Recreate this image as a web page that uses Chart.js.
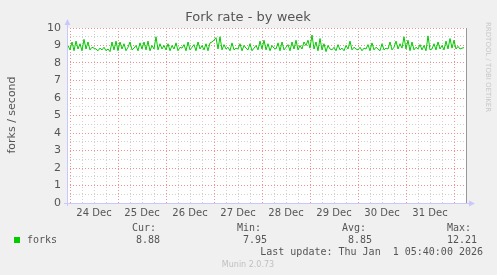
<!DOCTYPE html>
<html>
<head>
<meta charset="UTF-8">
<title>Fork rate - by week</title>
<script src="https://cdn.jsdelivr.net/npm/chart.js@4/dist/chart.umd.min.js"></script>
<style>
  html, body { margin: 0; padding: 0; background: #f0f0f0; }
  #wrap { width: 497px; height: 275px; }
</style>
</head>
<body>
<div id="wrap"><canvas id="forkChart" width="497" height="275"></canvas></div>
<script>
// hourly samples, hours counted from 24 Dec 00:00
const startHour = -1;
const forks = [
  9.0, 8.75, 9.2, 8.7, 9.25, 8.8, 9.1, 8.7, 9.35, 8.8, 9.2, 8.75, 8.9, 8.85, 8.8, 8.7, 8.85, 8.75, 8.9, 8.7, 8.8, 8.65, 9.2, 8.75, 9.25,
  8.7, 9.2, 8.8, 9.1, 8.7, 8.9, 9.2, 8.75, 8.85, 9.0, 8.7, 9.15, 8.8, 9.2, 8.75, 9.25, 8.7, 9.0, 8.8, 9.5, 8.75, 9.1, 8.8, 9.0,
  8.75, 9.1, 8.7, 9.0, 8.8, 9.15, 8.7, 8.9, 8.85, 9.05, 8.7, 9.2, 8.75, 8.9, 9.05, 8.7, 9.2, 8.8, 9.0, 8.75, 9.1, 8.7, 9.15, 9.2,
  9.3, 9.45, 8.8, 9.5, 8.75, 9.05, 8.8, 8.9, 8.7, 9.15, 8.75, 8.85, 8.8, 9.1, 8.7, 9.0, 8.85, 8.75, 9.1, 8.7, 8.85, 9.0, 8.75, 9.25,
  8.8, 9.3, 8.75, 9.1, 8.7, 9.0, 8.85, 8.8, 9.15, 8.7, 9.2, 8.75, 8.9, 9.05, 8.7, 9.2, 8.8, 9.3, 8.75, 9.0, 8.8, 9.2, 9.0, 9.3,
  8.85, 9.6, 8.8, 9.2, 8.7, 9.4, 8.75, 9.1, 8.65, 9.0, 8.8, 8.75, 8.9, 8.7, 9.05, 8.75, 8.85, 8.7, 9.0, 8.8, 9.25, 8.75, 8.9, 8.8,
  8.75, 8.9, 8.7, 8.85, 8.8, 9.05, 8.7, 9.15, 8.75, 8.9, 8.8, 8.7, 9.1, 8.75, 8.85, 8.8, 9.2, 8.75, 8.9, 9.25, 8.8, 9.1, 8.85, 9.5,
  8.8, 9.3, 8.7, 9.2, 8.75, 8.9, 8.8, 9.05, 8.75, 9.0, 8.7, 9.55, 8.75, 8.8, 9.1, 8.75, 9.2, 8.8, 9.0, 8.75, 9.25, 8.8, 9.4, 8.85,
  9.3, 8.8, 8.95, 8.8, 8.85, 8.88
];
const dayLabels = ['24 Dec', '25 Dec', '26 Dec', '27 Dec', '28 Dec', '29 Dec', '30 Dec', '31 Dec'];
const legendHeads = ['Cur:', 'Min:', 'Avg:', 'Max:'];
const legendValues = ['8.88', '7.95', '8.85', '12.21'];

const points = forks.map((v, i) => ({ x: startHour + i, y: v }));

const munin = {
  id: 'munin',
  beforeDraw(chart) {
    const c = chart.ctx, a = chart.chartArea;
    c.save();
    c.fillStyle = '#f0f0f0';
    c.fillRect(0, 0, chart.width, chart.height);
    c.fillStyle = '#ffffff';
    c.fillRect(a.left, a.top, a.right - a.left, a.bottom - a.top);
    c.restore();
  },
  afterDraw(chart) {
    const c = chart.ctx, a = chart.chartArea;
    c.save();
    // axes with arrows
    c.strokeStyle = '#c8c8ff';
    c.fillStyle = '#c8c8ff';
    c.lineWidth = 1;
    c.beginPath();
    c.moveTo(a.left + 0.5, a.bottom + 3);
    c.lineTo(a.left + 0.5, a.top - 4);
    c.moveTo(a.left - 3, a.bottom + 0.5);
    c.lineTo(a.right + 4, a.bottom + 0.5);
    c.stroke();
    c.beginPath();
    c.moveTo(a.left - 2.5, a.top - 3); c.lineTo(a.left + 3.5, a.top - 3); c.lineTo(a.left + 0.5, a.top - 9);
    c.fill();
    c.beginPath();
    c.moveTo(a.right + 3, a.bottom - 2.5); c.lineTo(a.right + 3, a.bottom + 3.5); c.lineTo(a.right + 9, a.bottom + 0.5);
    c.fill();
    // right frame
    c.strokeStyle = '#999999';
    c.beginPath();
    c.moveTo(a.right + 0.5, a.top);
    c.lineTo(a.right + 0.5, a.bottom);
    c.stroke();

    // title
    c.fillStyle = '#555555';
    c.font = '13px "DejaVu Sans"';
    c.textAlign = 'center';
    c.textBaseline = 'middle';
    c.fillText('Fork rate - by week', 248, 18);

    // y title
    c.save();
    c.translate(12, 115);
    c.rotate(-Math.PI / 2);
    c.font = '11px "DejaVu Sans"';
    c.fillText('forks / second', 0, 0);
    c.restore();

    // rrdtool credit
    c.save();
    c.translate(488, 22);
    c.rotate(Math.PI / 2);
    c.fillStyle = '#c8c8c8';
    c.font = '7px "DejaVu Sans"';
    c.textAlign = 'left';
    c.fillText('RRDTOOL / TOBI OETIKER', 0, 0);
    c.restore();

    // legend
    c.fillStyle = '#00cc00';
    c.fillRect(14, 237, 6, 6);
    c.fillStyle = '#555555';
    c.font = '10px "DejaVu Sans Mono"';
    c.textAlign = 'left';
    c.fillText('forks', 27, 240);
    const heads = [132, 237, 342, 447];
    const vals = [160, 267, 372, 477];
    legendHeads.forEach((h, i) => {
      c.textAlign = 'left';
      c.fillText(h, heads[i], 228);
      c.textAlign = 'right';
      c.fillText(legendValues[i], vals[i], 240);
    });
    c.textAlign = 'right';
    c.fillText('Last update: Thu Jan  1 05:40:00 2026', 483, 252);
    c.textAlign = 'center';
    c.fillStyle = '#c0c0c0';
    c.font = '8px "DejaVu Sans"';
    c.fillText('Munin 2.0.73', 248, 265);
    c.restore();
  }
};

new Chart('forkChart', {
  type: 'line',
  data: {
    datasets: [{
      data: points,
      borderColor: '#00cc00',
      borderWidth: 1,
      pointRadius: 0,
      tension: 0,
      fill: false
    }]
  },
  options: {
    responsive: false,
    animation: false,
    layout: { padding: { left: 0, right: 31, top: 28, bottom: 52 } },
    plugins: { legend: { display: false }, tooltip: { enabled: false } },
    scales: {
      x: {
        type: 'linear',
        min: -1.5,
        max: 198,
        afterFit(s) { s.height = 20; },
        border: { display: false, dash: [1, 2] },
        grid: {
          drawTicks: false,
          color: ctx => (((ctx.tick.value % 24) + 24) % 24 === 0 ? '#f09090' : '#d0d0d0'),
          lineWidth: 1
        },
        ticks: {
          stepSize: 6,
          includeBounds: false,
          autoSkip: false,
          maxRotation: 0,
          padding: 4,
          color: '#555555',
          font: { family: 'DejaVu Sans', size: 10 },
          callback: v => (v % 24 === 12 ? (dayLabels[(v - 12) / 24] || '') : '')
        }
      },
      y: {
        min: 0,
        max: 10,
        afterFit(s) { s.width = 67; },
        border: { display: false, dash: [1, 2] },
        grid: {
          drawTicks: false,
          color: ctx => (Number.isInteger(ctx.tick.value) ? '#f09090' : '#d0d0d0'),
          lineWidth: 1
        },
        ticks: {
          stepSize: 0.5,
          autoSkip: false,
          padding: 6,
          color: '#555555',
          font: { family: 'DejaVu Sans', size: 11 },
          callback: v => (Number.isInteger(v) ? String(v) : '')
        }
      }
    }
  },
  plugins: [munin]
});
</script>
</body>
</html>
